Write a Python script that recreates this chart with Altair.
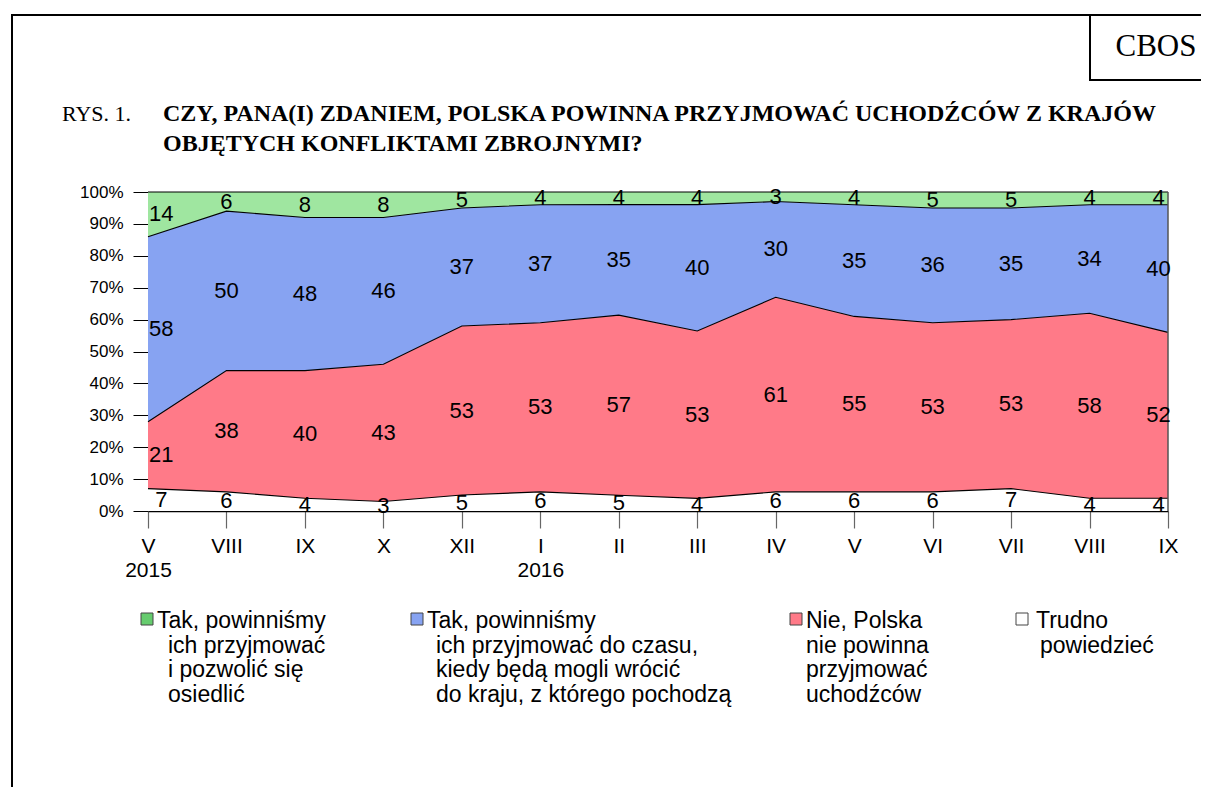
import json
import altair as alt
import pandas as pd

# ---- data -------------------------------------------------------------
months = ["V", "VIII", "IX", "X", "XII", "I", "II", "III", "IV", "V", "VI", "VII", "VIII", "IX"]
years = ["2015", "", "", "", "", "2016", "", "", "", "", "", "", "", ""]

series_keys = ["trudno", "nie", "tak_czas", "tak_osiedlic"]
trudno = [7, 6, 4, 3, 5, 6, 5, 4, 6, 6, 6, 7, 4, 4]
nie = [21, 38, 40, 43, 53, 53, 57, 53, 61, 55, 53, 53, 58, 52]
tak_czas = [58, 50, 48, 46, 37, 37, 35, 40, 30, 35, 36, 35, 34, 40]
tak_osiedlic = [14, 6, 8, 8, 5, 4, 4, 4, 3, 4, 5, 5, 4, 4]

legend_osiedlic_first = "Tak, powinniśmy"
legend_osiedlic_rest = ["ich przyjmować", "i pozwolić się", "osiedlić"]
legend_czas_first = "Tak, powinniśmy"
legend_czas_rest = ["ich przyjmować do czasu,", "kiedy będą mogli wrócić", "do kraju, z którego pochodzą"]
legend_nie = ["Nie, Polska", "nie powinna", "przyjmować", "uchodźców"]
legend_trudno_first = "Trudno"
legend_trudno_rest = ["powiedzieć"]

title_prefix = "RYS. 1."
title_lines = ["CZY, PANA(I) ZDANIEM, POLSKA POWINNA PRZYJMOWAĆ UCHODŹCÓW Z KRAJÓW",
               "OBJĘTYCH KONFLIKTAMI ZBROJNYMI?"]
source_label = "CBOS"

y_ticks = [0, 0.1, 0.2, 0.3, 0.4, 0.5, 0.6, 0.7, 0.8, 0.9, 1.0]

area_colors = ["#ffffff", "#ff7a88", "#87a3f2", "#9fe6a0"]
swatch_colors = ["#ffffff", "#ff7a88", "#87a3f2", "#66cc6e"]

# ---- table ------------------------------------------------------------
values = {"trudno": trudno, "nie": nie, "tak_czas": tak_czas, "tak_osiedlic": tak_osiedlic}
rows = []
for order, key in enumerate(series_keys):
    for i, v in enumerate(values[key]):
        rows.append({"idx": i, "series": key, "order": order, "value": v})
df = pd.DataFrame(rows)

W, H = 1020, 319
SANS = "Liberation Sans"
SERIF = "Liberation Serif"

month_expr = json.dumps(months) + "[datum.value]"
year_expr = json.dumps(years) + "[datum.value]"

x_scale = alt.Scale(domain=[0, len(months) - 1], nice=False)
y_scale = alt.Scale(domain=[0, 1], nice=False)
x_axis = alt.Axis(values=list(range(len(months))), labelExpr="[" + month_expr + ", " + year_expr + "]",
                  title=None, tickSize=17, tickColor="#666666", tickWidth=1.2,
                  domainColor="#000000", domainWidth=1.5, labelFlush=False,
                  labelOverlap=False,
                  labelFont=SANS, labelFontSize=21, labelColor="#000000",
                  labelPadding=7, labelLineHeight=24, grid=False)
y_axis = alt.Axis(values=y_ticks, format=".0%", title=None,
                  tickSize=15, tickColor="#000000", tickWidth=1, domain=False,
                  labelOverlap=False, labelFlush=False,
                  labelFont=SANS, labelFontSize=17, labelColor="#000000",
                  labelPadding=10, grid=False)

def X(field):
    return alt.X(field, scale=x_scale, axis=x_axis)

def Y(field):
    return alt.Y(field, scale=y_scale, axis=y_axis)

base = alt.Chart(df).transform_stack(
    stack="value", groupby=["idx"], as_=["y0", "y1"],
    sort=[alt.SortField("order", order="ascending")], offset="normalize"
).transform_calculate(
    mid="(datum.y0 + datum.y1) / 2",
    xl="datum.idx == 0 ? datum.idx + 0.17 : (datum.idx == 13 ? datum.idx - 0.12 : datum.idx)",
)

areas = base.mark_area(opacity=1).encode(
    x=X("idx:Q"), y=Y("y1:Q"), y2="y0:Q",
    color=alt.Color("series:N", scale=alt.Scale(domain=series_keys, range=area_colors), legend=None),
    order=alt.Order("order:Q"),
)

lines = base.mark_line(color="#000000", strokeWidth=1.1).encode(
    x=X("idx:Q"), y=Y("y1:Q"), detail="series:N"
)

labels = base.mark_text(font=SANS, fontSize=22, color="#000000", baseline="middle", align="center").encode(
    x=X("xl:Q"), y=Y("mid:Q"), text="value:Q"
)

one = alt.Chart(pd.DataFrame({"k": [0]}))

right_edge = one.mark_rule(color="#555555", strokeWidth=1.5).encode(
    x=alt.value(W), y=alt.value(0), y2=alt.value(H))

frame_left = one.mark_rule(color="#000000", strokeWidth=2).encode(
    x=alt.value(-136), y=alt.value(-177), y2=alt.value(600))
frame_top = one.mark_rule(color="#000000", strokeWidth=2).encode(
    x=alt.value(-137), x2=alt.value(1060), y=alt.value(-177))
box_v = one.mark_rule(color="#000000", strokeWidth=2).encode(
    x=alt.value(942), y=alt.value(-177), y2=alt.value(-112))
box_h = one.mark_rule(color="#000000", strokeWidth=2).encode(
    x=alt.value(941), x2=alt.value(1060), y=alt.value(-112))
cbos = one.mark_text(font=SERIF, fontSize=31, align="center", baseline="middle", color="#000000").encode(
    x=alt.value(1008), y=alt.value(-145), text=alt.value(source_label))

rys = one.mark_text(font=SERIF, fontSize=22, align="left", baseline="alphabetic", color="#000000").encode(
    x=alt.value(-86), y=alt.value(-71), text=alt.value(title_prefix))
title = one.mark_text(font=SERIF, fontSize=24, fontWeight="bold", align="left", baseline="alphabetic",
                      lineHeight=30, color="#000000").encode(
    x=alt.value(15), y=alt.value(-71), text=alt.value(title_lines))

LEG_Y0 = 436
LEG_LH = 24.7

def swatch(x0, color):
    return one.mark_rect(color=color, stroke="#444444", strokeWidth=1).encode(
        x=alt.value(x0), x2=alt.value(x0 + 12), y=alt.value(421), y2=alt.value(433))

def legend_text(x0, y0, txt):
    return one.mark_text(font=SANS, fontSize=23, align="left", baseline="alphabetic",
                         lineHeight=LEG_LH, color="#000000").encode(
        x=alt.value(x0), y=alt.value(y0), text=alt.value(txt))

legend = [
    swatch(-7, swatch_colors[3]), legend_text(9, LEG_Y0, legend_osiedlic_first),
    legend_text(20, LEG_Y0 + LEG_LH, legend_osiedlic_rest),
    swatch(263, swatch_colors[2]), legend_text(279, LEG_Y0, legend_czas_first),
    legend_text(288, LEG_Y0 + LEG_LH, legend_czas_rest),
    swatch(642, swatch_colors[1]), legend_text(658, LEG_Y0, legend_nie),
    swatch(868, swatch_colors[0]), legend_text(888, LEG_Y0, legend_trudno_first),
    legend_text(892, LEG_Y0 + LEG_LH, legend_trudno_rest),
]

chart = alt.layer(
    areas, lines, right_edge, labels,
    frame_left, frame_top, box_v, box_h, cbos, rys, title, *legend
).properties(
    width=W, height=H,
    autosize=alt.AutoSizeParams(type="none"),
    padding={"left": 140, "top": 184, "right": 33, "bottom": 276},
    background="#ffffff",
).configure_view(stroke=None)

chart.save("out.html", embed_options={"renderer": "svg", "actions": False})
